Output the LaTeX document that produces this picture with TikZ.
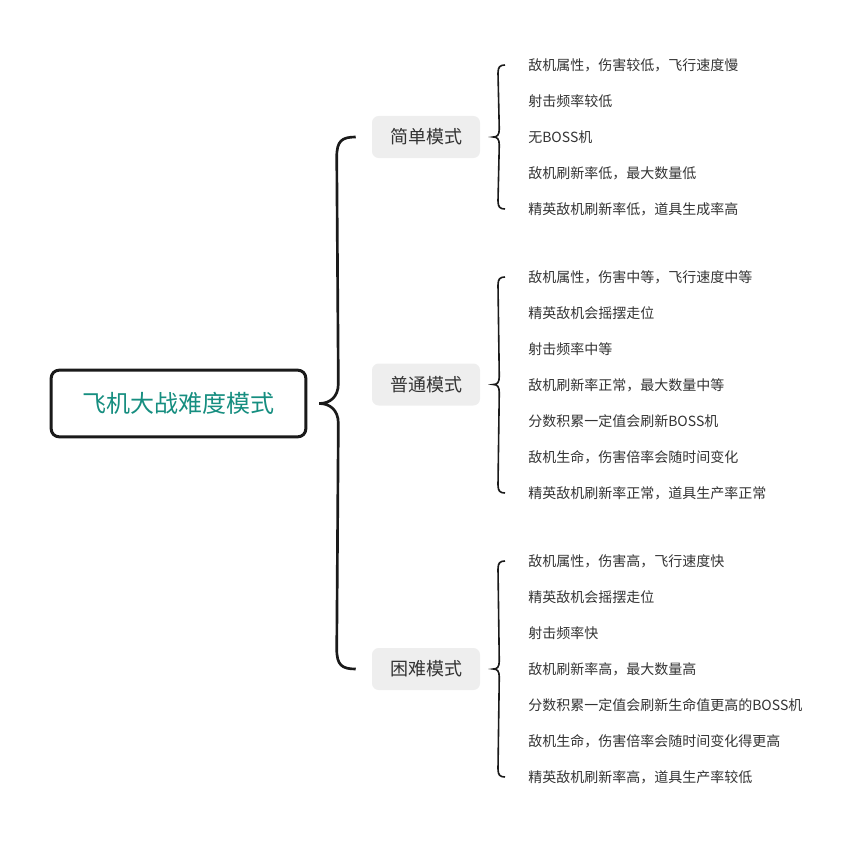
\documentclass[tikz,border=0pt]{standalone}
\usepackage{fontspec}
\setmainfont{Noto Sans CJK SC}
\usepackage{tikz}
\usetikzlibrary{calc}

\definecolor{rootteal}{RGB}{22,142,128}
\definecolor{modegray}{RGB}{238,238,238}
\definecolor{inkgray}{RGB}{51,51,51}
\definecolor{braceblack}{RGB}{26,26,26}

\begin{document}
\begin{tikzpicture}[x=0.75pt, y=-0.75pt,
    rootbox/.style={draw=braceblack, line width=2.25pt, rounded corners=6pt, fill=white,
        minimum width=191pt, minimum height=50pt, text=rootteal, font=\fontsize{18}{20}\selectfont},
    modebox/.style={fill=modegray, rounded corners=5pt, minimum width=81pt, minimum height=31.5pt,
        text=inkgray, font=\fontsize{13.5}{15}\selectfont},
    item/.style={anchor=west, inner sep=0pt, text=inkgray, font=\fontsize{10.5}{12}\selectfont},
    mainbrace/.style={draw=braceblack, line width=2pt},
    subbrace/.style={draw=braceblack, line width=1.2pt}]

\useasboundingbox (0,0) rectangle (861,842);

% ===================== ROOT =====================
\node[rootbox] (root) at (178.5,403.5) {飞机大战难度模式};

% ===================== MODES =====================
\node[modebox] (easy) at (426,137) {简单模式};
\node[modebox] (normal) at (426,384.5) {普通模式};
\node[modebox] (hard) at (426,669) {困难模式};

% ===================== ITEMS =====================
\foreach \t [count=\i] in {敌机属性，伤害较低，飞行速度慢, 射击频率较低, 无BOSS机,
    敌机刷新率低，最大数量低, 精英敌机刷新率低，道具生成率高}
    \node[item] (e\i) at (528,29+36*\i) {\t};

\foreach \t [count=\i] in {敌机属性，伤害中等，飞行速度中等, 精英敌机会摇摆走位, 射击频率中等,
    敌机刷新率正常，最大数量中等, 分数积累一定值会刷新BOSS机,
    敌机生命，伤害倍率会随时间变化, 精英敌机刷新率正常，道具生产率正常}
    \node[item] (n\i) at (528,241+36*\i) {\t};

\foreach \t [count=\i] in {敌机属性，伤害高，飞行速度快, 精英敌机会摇摆走位, 射击频率快,
    敌机刷新率高，最大数量高, 分数积累一定值会刷新生命值更高的BOSS机,
    敌机生命，伤害倍率会随时间变化得更高, 精英敌机刷新率高，道具生产率较低}
    \node[item] (h\i) at (528,525+36*\i) {\t};

% ===================== MAIN BRACE =====================
\coordinate (mtop) at ($(easy.west)+(-16,0)$);
\coordinate (mtip) at ($(root.east)+(12,0)$);
\coordinate (mbot) at ($(hard.west)+(-16,0)$);
\draw[mainbrace] (mtop) .. controls +(-14,0) and +(0,-16) .. ($(mtop)+(-19,20)$)
    -- ($(mtip)+(19,-20)$) .. controls +(0,14) and +(10,0) .. (mtip)
    .. controls +(10,0) and +(0,-14) .. ($(mtip)+(19,20)$)
    -- ($(mbot)+(-19,-20)$) .. controls +(0,16) and +(-14,0) .. (mbot);

% ===================== SUB BRACES =====================
\foreach \m/\a/\b in {easy/e1/e5, normal/n1/n7, hard/h1/h7} {
    \coordinate (stop) at ($(\a.west)+(-23,0)$);
    \coordinate (stip) at ($(\m.east)+(13,0)$);
    \coordinate (sbot) at ($(\b.west)+(-23,0)$);
    \draw[subbrace] (stop) .. controls +(-5,0) and +(0,-6) .. ($(stop)+(-7,8)$)
        -- ($(stip)+(6,-8)$) .. controls +(0,6) and +(4,0) .. (stip)
        .. controls +(4,0) and +(0,-6) .. ($(stip)+(6,8)$)
        -- ($(sbot)+(-7,-8)$) .. controls +(0,6) and +(-5,0) .. (sbot);
}

\end{tikzpicture}
\end{document}
